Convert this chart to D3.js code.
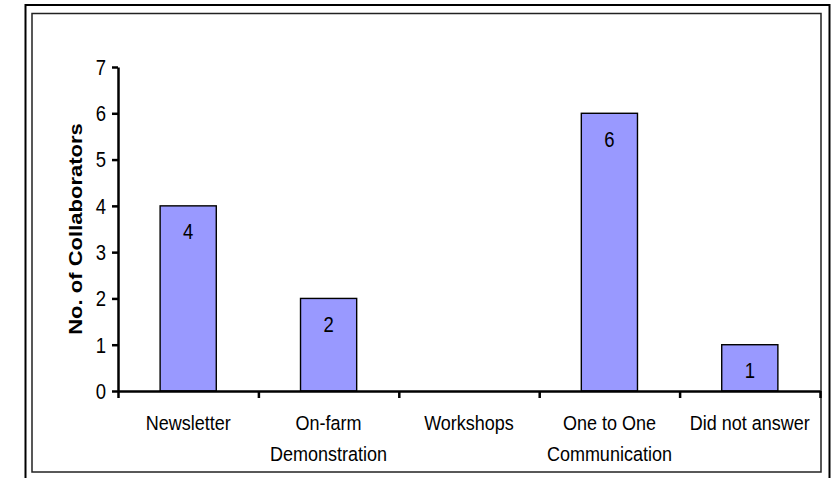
<!DOCTYPE html>
<html>
<head>
<meta charset="utf-8">
<script src="https://cdn.jsdelivr.net/npm/d3@7"></script>
<style>
  body { margin: 0; background: #fff; }
  text { font-family: "Liberation Sans", Arial, sans-serif; fill: #000; }
</style>
</head>
<body>
<div id="chart"></div>
<script>
// data
let categories = ['Newsletter', 'On-farm Demonstration', 'Workshops', 'One to One Communication', 'Did not answer']
let categoryLines = [['Newsletter'], ['On-farm', 'Demonstration'], ['Workshops'], ['One to One', 'Communication'], ['Did not answer']]
let collaborators = [4, 2, 0, 6, 1]
let yTicks = [0, 1, 2, 3, 4, 5, 6, 7]
let yTitle = 'No. of Collaborators'

let width = 840
let height = 478
let plotLeft = 118
let plotRight = 820
let plotTop = 67
let plotBottom = 391
let stretch = 1.16 // the scan makes the text look a bit tall and narrow
let barFill = '#9999ff'

let svg = d3.select('#chart').append('svg').attr('width', width).attr('height', height)

// double frame round the chart
svg.append('path')
  .attr('d', 'M25.5,490V5H829.5V490')
  .attr('fill', 'none').attr('stroke', '#000').attr('stroke-width', 2)
svg.append('rect')
  .attr('x', 32).attr('y', 13.5).attr('width', 789).attr('height', 458.5)
  .attr('fill', 'none').attr('stroke', '#222').attr('stroke-width', 1.5)

// scales
let x = d3.scaleBand().domain(categories).range([plotLeft, plotRight]).paddingInner(0.6).paddingOuter(0.3)
let y = d3.scaleLinear().domain([0, 7]).range([plotBottom, plotTop])
// boundaries between categories, used for the x ticks
let xEdge = d3.scaleLinear().domain([0, categories.length]).range([plotLeft, plotRight])

// bars
let rows = categories.map((c, i) => ({ cat: c, value: collaborators[i] })).filter(d => d.value > 0)
svg.append('g').attr('class', 'bars')
  .selectAll('rect').data(rows).join('rect')
  .attr('x', d => x(d.cat))
  .attr('y', d => y(d.value))
  .attr('width', x.bandwidth())
  .attr('height', d => y(0) - y(d.value))
  .attr('fill', barFill)
  .attr('stroke', '#000')
  .attr('stroke-width', 1.4)

// value labels inside the bars
svg.append('g').attr('class', 'values')
  .selectAll('g').data(rows).join('g')
  .attr('transform', d => 'translate(' + (x(d.cat) + x.bandwidth() / 2) + ',' + (y(d.value) + 26) + ') scale(1,' + stretch + ')')
  .append('text')
  .attr('text-anchor', 'middle')
  .attr('dy', '0.35em')
  .style('font-size', '18.5px')
  .text(d => d.value)

// x axis: line with ticks on the category edges
let xAxis = d3.axisBottom(xEdge).ticks(categories.length).tickFormat('').tickSize(7).tickSizeOuter(0)
let gx = svg.append('g').attr('class', 'xAxis').attr('transform', 'translate(0,' + plotBottom + ')').call(xAxis)
gx.select('.domain').attr('stroke-width', 2.5)
gx.selectAll('.tick line').attr('stroke-width', 2.5)

// y axis
let yAxis = d3.axisLeft(y).tickValues(yTicks).tickFormat(d3.format('d')).tickSize(6).tickPadding(6).tickSizeOuter(0)
let gy = svg.append('g').attr('class', 'yAxis').attr('transform', 'translate(' + plotLeft + ',0)').call(yAxis)
gy.select('.domain').attr('stroke-width', 2.5)
gy.selectAll('.tick line').attr('stroke-width', 2.5)
gy.selectAll('.tick text')
  .attr('dy', '0.34em')
  .attr('transform', 'scale(1,' + stretch + ')')
  .attr('y', 0)
  .style('font-size', '18.5px')
  .attr('fill', '#000')

// category labels under the axis
let lab = svg.append('g').attr('class', 'catLabels')
  .selectAll('g').data(categories).join('g')
  .attr('transform', d => 'translate(' + (x(d) + x.bandwidth() / 2) + ',430)')
lab.each(function (d, i) {
  categoryLines[i].forEach((line, k) => {
    d3.select(this).append('text')
      .attr('text-anchor', 'middle')
      .attr('transform', 'translate(0,' + (k * 31) + ') scale(1,' + stretch + ')')
      .style('font-size', '18px')
      .text(line)
  })
})

// y axis title
svg.append('text')
  .attr('transform', 'translate(75.5,229) scale(1,' + stretch + ') rotate(-90)')
  .attr('text-anchor', 'middle')
  .attr('dy', '0.35em')
  .style('font-size', '19px')
  .style('font-weight', 'bold')
  .text(yTitle)
</script>
</body>
</html>
